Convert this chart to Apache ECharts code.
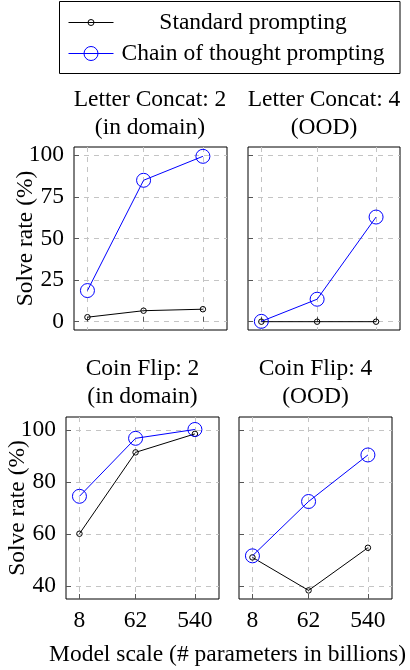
<!DOCTYPE html>
<html><head><meta charset="utf-8">
<script src="https://cdn.jsdelivr.net/npm/echarts@6/dist/echarts.min.js"></script>
<style>html,body{margin:0;padding:0;background:#fff}#c{width:410px;height:670px}</style>
</head><body><div id="c"></div>
<script>
// ---- data ----
const modelScale = [8, 62, 540];
const seriesNames = ['Standard prompting', 'Chain of thought prompting'];
const letterConcat2Standard = [2.7, 6.6, 7.5];
const letterConcat2CoT = [18.7, 85.0, 99.4];
const letterConcat4Standard = [0, 0, 0];
const letterConcat4CoT = [0.2, 13.5, 62.9];
const coinFlip2Standard = [60.1, 91.4, 98.5];
const coinFlip2CoT = [74.5, 96.8, 100.2];
const coinFlip4Standard = [51.0, 38.3, 54.7];
const coinFlip4CoT = [51.6, 72.5, 90.4];
const topYTicks = [0, 25, 50, 75, 100];
const bottomYTicks = [40, 60, 80, 100];
const panelTitles = [
  ['Letter Concat: 2', '(in domain)'],
  ['Letter Concat: 4', '(OOD)'],
  ['Coin Flip: 2', '(in domain)'],
  ['Coin Flip: 4', '(OOD)']
];
const yAxisTitle = 'Solve rate (%)';
const xAxisTitle = 'Model scale (# parameters in billions)';

// ---- layout / style ----
const FONT = '"Liberation Serif", "Times New Roman", serif';
const FS = 23.5;
const panels = [
  { left: 74, top: 147, width: 153, height: 183, std: letterConcat2Standard, cot: letterConcat2CoT, ymin: -5, ymax: 105, yticks: topYTicks, showY: true, showX: false, titleX: 150, titleY: 99.5 },
  { left: 248, top: 147, width: 152, height: 183, std: letterConcat4Standard, cot: letterConcat4CoT, ymin: -5, ymax: 105, yticks: topYTicks, showY: false, showX: false, titleX: 324, titleY: 99.5 },
  { left: 66, top: 417, width: 153, height: 182, std: coinFlip2Standard, cot: coinFlip2CoT, ymin: 35, ymax: 105, yticks: bottomYTicks, showY: true, showX: true, titleX: 142.5, titleY: 369 },
  { left: 239, top: 417, width: 153, height: 182, std: coinFlip4Standard, cot: coinFlip4CoT, ymin: 35, ymax: 105, yticks: bottomYTicks, showY: false, showX: true, titleX: 315.5, titleY: 369 }
];
const gridLine = { show: true, lineStyle: { color: '#c4c4c4', type: [5, 5], width: 1 } };
const tick = (vals) => ({ show: true, inside: true, length: 5, customValues: vals, lineStyle: { color: '#555' } });

const grid = [], xAxis = [], yAxis = [], series = [], graphic = [];
panels.forEach((p, i) => {
  grid.push({ left: p.left, top: p.top, width: p.width, height: p.height, show: true, borderColor: '#000', borderWidth: 1, backgroundColor: 'transparent' });
  xAxis.push({
    type: 'log', gridIndex: i, min: 4.9, max: 1300,
    axisLine: { show: false },
    axisTick: tick(modelScale),
    axisLabel: { show: p.showX, customValues: modelScale, margin: 10, color: '#000', fontFamily: FONT, fontSize: FS },
    splitLine: gridLine, minorTick: { show: false }, minorSplitLine: { show: false }
  });
  yAxis.push({
    type: 'value', gridIndex: i, min: p.ymin, max: p.ymax,
    name: p.showY ? yAxisTitle : '', nameLocation: 'middle', nameGap: 36, nameMoveOverlap: false,
    nameTextStyle: { color: '#000', fontFamily: FONT, fontSize: FS },
    axisLine: { show: false },
    axisTick: tick(p.yticks),
    axisLabel: { show: p.showY, customValues: p.yticks, margin: 10, color: '#000', fontFamily: FONT, fontSize: FS },
    splitLine: gridLine
  });
  series.push({
    name: seriesNames[0], type: 'line', xAxisIndex: i, yAxisIndex: i,
    data: modelScale.map((x, j) => [x, p.std[j]]),
    symbol: 'circle', symbolSize: 5.5,
    itemStyle: { color: 'rgba(0,0,0,0)', borderColor: '#000', borderWidth: 1 },
    lineStyle: { color: '#000', width: 1 }, emphasis: { disabled: true }, animation: false, z: 3
  });
  series.push({
    name: seriesNames[1], type: 'line', xAxisIndex: i, yAxisIndex: i,
    data: modelScale.map((x, j) => [x, p.cot[j]]),
    symbol: 'circle', symbolSize: 14,
    itemStyle: { color: 'rgba(0,0,0,0)', borderColor: '#0000ff', borderWidth: 1 },
    lineStyle: { color: '#0000ff', width: 1 }, emphasis: { disabled: true }, animation: false, z: 4
  });
  panelTitles[i].forEach((t, k) => {
    graphic.push({ type: 'text', x: p.titleX, y: p.titleY + k * 28, style: { text: t, fill: '#000', font: FS + 'px ' + FONT, textAlign: 'center', textVerticalAlign: 'middle' } });
  });
});

graphic.push({ type: 'text', x: 227.5, y: 655, style: { text: xAxisTitle, fill: '#000', font: FS + 'px ' + FONT, textAlign: 'center', textVerticalAlign: 'middle' } });
graphic.push({ type: 'rect', shape: { x: 59.5, y: 1.5, width: 340.5, height: 72 }, style: { fill: 'none', stroke: '#000', lineWidth: 1 }, z: -1 });

const legendText = { color: '#000', fontFamily: FONT, fontSize: FS, rich: { a: { width: 269, align: 'center', color: '#000', fontFamily: FONT, fontSize: FS } } };
const legend = [
  { data: [seriesNames[0]], left: 68, top: 10.5, itemWidth: 45, itemHeight: 7.5, padding: 0, selectedMode: false, formatter: '{a|{name}}', textStyle: legendText, lineStyle: { width: 1 }, itemStyle: { borderWidth: 1 } },
  { data: [seriesNames[1]], left: 68, top: 41.5, itemWidth: 45, itemHeight: 17.5, padding: 0, selectedMode: false, formatter: '{a|{name}}', textStyle: legendText, lineStyle: { width: 1 }, itemStyle: { borderWidth: 1 } }
];

const chart = echarts.init(document.getElementById('c'));
chart.setOption({ animation: false, backgroundColor: '#fff', grid, xAxis, yAxis, series, legend, graphic });
</script></body></html>
